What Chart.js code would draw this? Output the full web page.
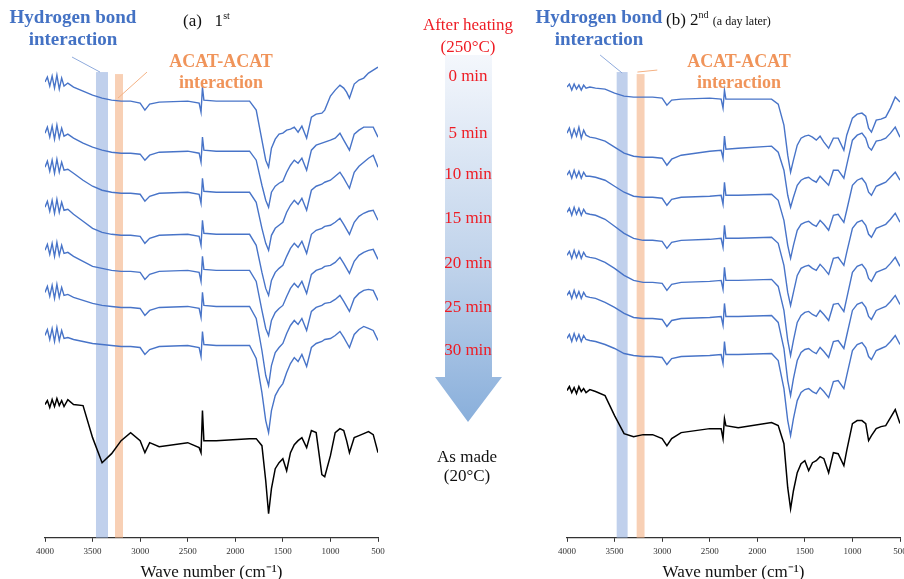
<!DOCTYPE html>
<html lang="en">
<head>
<meta charset="UTF-8">
<title>FTIR spectra after heating</title>
<script src="https://cdn.jsdelivr.net/npm/chart.js"></script>
<style>
  body { margin:0; width:904px; height:579px; overflow:hidden; background:#fff; position:relative; font-family:"Liberation Serif", "Times New Roman", serif; }
  .wrap { position:absolute; top:0; width:400px; height:585px; }
  .lbl { position:absolute; white-space:nowrap; line-height:1; transform:translateX(-50%); text-align:center; }
  .blue { color:#4472c4; font-weight:bold; font-size:19px; line-height:22px; }
  .orange { color:#f0945a; font-weight:bold; font-size:18px; line-height:21px; }
  .red { color:#ee1c24; font-size:17px; }
  .black { color:#111; font-size:17px; line-height:19px; }
  .head { position:absolute; white-space:nowrap; color:#111; font-size:17px; line-height:1; }
  sup { font-size:10px; vertical-align:7px; line-height:0; }
  .small { font-size:12px; }
</style>
</head>
<body>

<div class="wrap" style="left:0"><canvas id="leftChart" width="400" height="585"></canvas></div>
<div class="wrap" style="left:522px"><canvas id="rightChart" width="400" height="585"></canvas></div>

<svg style="position:absolute;left:0;top:0" width="904" height="579">
  <defs>
    <linearGradient id="arrowFill" x1="0" y1="55" x2="0" y2="422" gradientUnits="userSpaceOnUse">
      <stop offset="0" stop-color="#f4f7fc"/>
      <stop offset="0.6" stop-color="#bdd1ea"/>
      <stop offset="1" stop-color="#89afdb"/>
    </linearGradient>
  </defs>
  <polygon points="445,55 492,55 492,377 502,377 468,422 435,377 445,377" fill="url(#arrowFill)"/>
</svg>

<div class="lbl blue" style="left:73px;top:6px">Hydrogen bond<br>interaction</div>
<div class="lbl orange" style="left:221px;top:51px">ACAT-ACAT<br>interaction</div>
<div class="head" style="left:183px;top:12px">(a)&nbsp;&nbsp;&nbsp;1<sup>st</sup></div>

<div class="lbl blue" style="left:599px;top:6px">Hydrogen bond<br>interaction</div>
<div class="lbl orange" style="left:739px;top:51px">ACAT-ACAT<br>interaction</div>
<div class="head" style="left:666px;top:11px">(b) 2<sup>nd</sup> <span class="small">(a day later)</span></div>

<div class="lbl red" style="left:468px;top:14px;line-height:22px">After heating<br>(250°C)</div>
<div id="timeLabels"></div>
<div class="lbl black" style="left:467px;top:447px">As made<br>(20°C)</div>

<script>
// wavenumber grid (cm-1) shared by every spectrum
const wavenumbers = [4000,3975,3950,3925,3900,3875,3850,3825,3800,3760,3700,3600,3500,3400,3300,3200,3100,3000,2950,2900,2800,2500,2380,2360,2345,2330,2200,1850,1780,1720,1680,1650,1620,1580,1540,1500,1460,1420,1380,1340,1300,1250,1200,1150,1090,1060,1000,950,900,860,830,800,750,700,650,600,550,500];
const xTicks = [4000,3500,3000,2500,2000,1500,1000,500];
const heatingTimes = ['0 min','5 min','10 min','15 min','20 min','25 min','30 min'];

// (a) 1st heating, stacked transmittance (a.u., offset)
const left0min  = [455,460,451,461,449,462,448,459,451,454,450,446,442,439,437,436,436,434,427,433,435,436,434,425,450,437,436,436,427,397,377,370,389,398,403,404,407,408,410,405,411,399,420,423,424,427,441,447,452,449,445,439,453,457,459,464,467,470];
const left5min  = [404,410,400,411,398,412,399,409,401,403,399,394,390,387,385,384,384,383,377,382,385,386,384,375,400,387,386,386,377,352,337,330,345,351,354,356,365,372,377,374,379,367,387,392,394,395,397,399,404,397,392,387,403,407,410,410,410,400];
const left10min = [370,376,366,377,364,378,365,375,367,368,364,357,351,347,345,344,344,343,336,341,344,345,343,334,359,346,345,345,335,309,294,287,302,309,312,315,325,332,337,333,339,327,347,351,353,355,357,361,365,359,354,349,365,371,375,379,382,370];
const left15min = [330,336,326,337,324,338,325,335,327,328,323,316,309,305,303,302,302,301,294,299,302,303,301,292,317,304,303,303,292,265,249,242,257,265,269,272,281,289,294,290,296,284,303,307,309,311,312,315,319,313,308,303,315,321,324,326,327,317];
const left20min = [287,293,283,294,281,295,282,292,284,285,281,276,271,269,267,266,266,265,258,263,266,267,265,256,281,268,267,267,256,227,209,202,217,225,229,232,241,249,254,250,256,244,263,267,269,271,272,275,280,274,269,264,276,282,285,287,288,278];
const left25min = [245,251,241,252,239,253,240,250,242,243,240,237,234,232,231,230,230,229,222,227,230,231,229,220,245,232,231,231,219,187,162,152,172,185,190,194,204,212,217,213,219,207,226,230,232,234,235,238,242,236,231,226,239,244,247,248,247,237];
const left30min = [202,208,198,209,196,210,197,207,199,200,198,196,194,193,192,191,191,190,183,188,191,192,190,181,206,193,192,192,179,145,117,105,127,142,149,154,165,174,180,176,183,171,190,194,196,198,199,202,206,200,195,190,203,208,211,209,207,197];
const leftAsMade = [133,137,130,138,131,139,132,137,131,138,133,132,100,75,84,97,105,97,85,95,91,95,90,85,127,97,97,99,99,92,57,24,49,69,75,79,67,85,93,97,100,90,107,105,63,61,82,105,109,107,97,85,100,102,104,106,103,85];

// (b) 2nd heating, a day later
const right0min  = [450,453,447,453,448,452,447,452,449,450,449,448,444,441,440,440,440,439,432,437,438,439,438,429,447,438,438,438,433,412,382,365,377,392,399,401,402,400,397,401,395,389,399,399,387,402,419,423,424,421,409,405,417,418,420,429,440,435];
const right5min  = [404,409,400,408,401,410,399,407,402,400,399,396,390,384,381,380,380,379,372,378,382,386,387,379,401,388,389,391,385,367,342,330,340,352,357,359,360,357,355,361,357,352,367,367,359,372,397,402,404,399,390,387,396,397,399,404,410,400];
const right10min = [362,366,359,367,360,366,359,365,361,361,360,357,351,345,341,340,340,339,332,338,340,341,342,333,355,342,342,343,337,317,292,279,292,307,313,315,316,313,311,317,313,307,322,323,315,327,352,357,359,354,345,342,351,353,355,360,365,357];
const right15min = [325,329,322,330,323,329,322,328,324,323,322,318,311,304,299,297,297,296,289,295,297,298,299,290,312,299,299,300,294,272,245,232,245,262,269,271,272,269,267,273,269,263,279,280,272,285,309,315,317,312,303,300,309,311,313,318,324,315];
const right20min = [282,286,279,287,280,286,279,285,281,280,279,275,269,262,257,255,255,254,247,253,255,256,257,248,270,257,257,258,251,227,197,182,197,215,222,225,226,223,221,227,223,217,233,234,226,239,265,271,273,268,259,256,265,267,269,274,280,271];
const right25min = [242,246,239,247,240,246,239,245,241,240,239,235,230,224,220,219,219,218,211,217,219,220,221,212,234,221,221,222,215,189,157,142,159,177,185,188,189,186,184,190,186,180,196,197,189,202,227,233,235,230,221,218,227,229,231,236,242,233];
const right30min = [199,203,196,204,197,203,196,202,198,197,196,193,189,184,182,181,181,180,173,179,181,182,183,174,196,183,183,184,177,149,117,102,119,137,145,148,149,146,144,150,146,140,156,157,149,162,187,193,195,190,181,178,187,189,191,196,202,193];
const rightAsMade = [147,151,145,150,144,151,146,149,145,148,146,142,122,104,101,103,103,99,92,99,105,109,109,99,119,112,110,115,112,94,50,29,47,65,74,77,67,75,77,81,79,65,85,84,72,87,114,117,117,114,97,102,109,111,112,120,128,114];

// highlighted bands (cm-1)
const leftHBond = [3464, 3338];
const leftAcat = [3264, 3180];
const rightHBond = [3478, 3363];
const rightAcat = [3268, 3185];

// time labels down the arrow
const timeTops = [67, 124, 165, 209, 254, 298, 341];
document.getElementById('timeLabels').innerHTML = heatingTimes
  .map((t, i) => `<div class="lbl red" style="left:468px;top:${timeTops[i]}px">${t}</div>`).join('');

const toPoints = vals => vals.map((v, i) => ({ x: wavenumbers[i], y: v }));

// shaded bands and the thin leader lines to the labels
const bandPlugin = {
  id: 'bands',
  beforeDatasetsDraw(chart, args, opts) {
    const { ctx, scales: { x, y } } = chart;
    ctx.save();
    opts.bands.forEach(b => {
      const x1 = x.getPixelForValue(b.range[0]);
      const x2 = x.getPixelForValue(b.range[1]);
      const top = y.getPixelForValue(b.top);
      const bottom = y.getPixelForValue(0);
      ctx.fillStyle = b.color;
      ctx.fillRect(Math.min(x1, x2), top, Math.abs(x2 - x1), bottom - top);
    });
    opts.leaders.forEach(l => {
      ctx.strokeStyle = l.color;
      ctx.lineWidth = 1;
      ctx.beginPath();
      ctx.moveTo(x.getPixelForValue(l.from[0]), y.getPixelForValue(l.from[1]));
      ctx.lineTo(x.getPixelForValue(l.to[0]), y.getPixelForValue(l.to[1]));
      ctx.stroke();
    });
    ctx.restore();
  }
};

function buildPanel(id, heated, asMade, hBand, acatBand, leaders) {
  const datasets = heated.map((vals, i) => ({
    label: heatingTimes[i],
    data: toPoints(vals),
    borderColor: '#4874c8',
    borderWidth: 1.4,
    pointRadius: 0,
    tension: 0
  }));
  datasets.push({
    label: 'As made',
    data: toPoints(asMade),
    borderColor: '#000',
    borderWidth: 1.5,
    pointRadius: 0,
    tension: 0
  });

  return new Chart(document.getElementById(id), {
    type: 'line',
    data: { datasets },
    options: {
      responsive: false,
      animation: false,
      layout: { padding: { left: 45, right: 22, top: 37, bottom: 0 } },
      scales: {
        x: {
          type: 'linear',
          min: 500,
          max: 4000,
          reverse: true,
          afterBuildTicks: s => { s.ticks = xTicks.map(v => ({ value: v })); },
          ticks: {
            autoSkip: false,
            maxRotation: 0,
            padding: 4,
            color: '#333',
            font: { family: 'Liberation Serif', size: 9 },
            callback: v => String(v)
          },
          grid: { drawOnChartArea: false, tickLength: 4, color: '#333' },
          border: { color: '#333', width: 1.2 },
          title: {
            display: true,
            text: 'Wave number (cm\u207B\u00B9)',
            color: '#111',
            font: { family: 'Liberation Serif', size: 17 },
            padding: { top: 2, bottom: 2 }
          }
        },
        y: { display: false, min: 0, max: 500 }
      },
      plugins: {
        legend: { display: false },
        tooltip: { enabled: false },
        bands: {
          bands: [
            { range: hBand, top: 465, color: 'rgba(150,177,224,0.6)' },
            { range: acatBand, top: 463, color: 'rgba(244,177,131,0.6)' }
          ],
          leaders
        }
      }
    },
    plugins: [bandPlugin]
  });
}

buildPanel('leftChart',
  [left0min, left5min, left10min, left15min, left20min, left25min, left30min],
  leftAsMade, leftHBond, leftAcat,
  [
    { from: [3716, 480], to: [3422, 465], color: '#8eaadc' },
    { from: [2928, 465], to: [3233, 439], color: '#f4b183' }
  ]);

buildPanel('rightChart',
  [right0min, right5min, right10min, right15min, right20min, right25min, right30min],
  rightAsMade, rightHBond, rightAcat,
  [
    { from: [3652, 482], to: [3420, 464], color: '#8eaadc' },
    { from: [3260, 465], to: [3051, 467], color: '#f4b183' }
  ]);
</script>
</body>
</html>
